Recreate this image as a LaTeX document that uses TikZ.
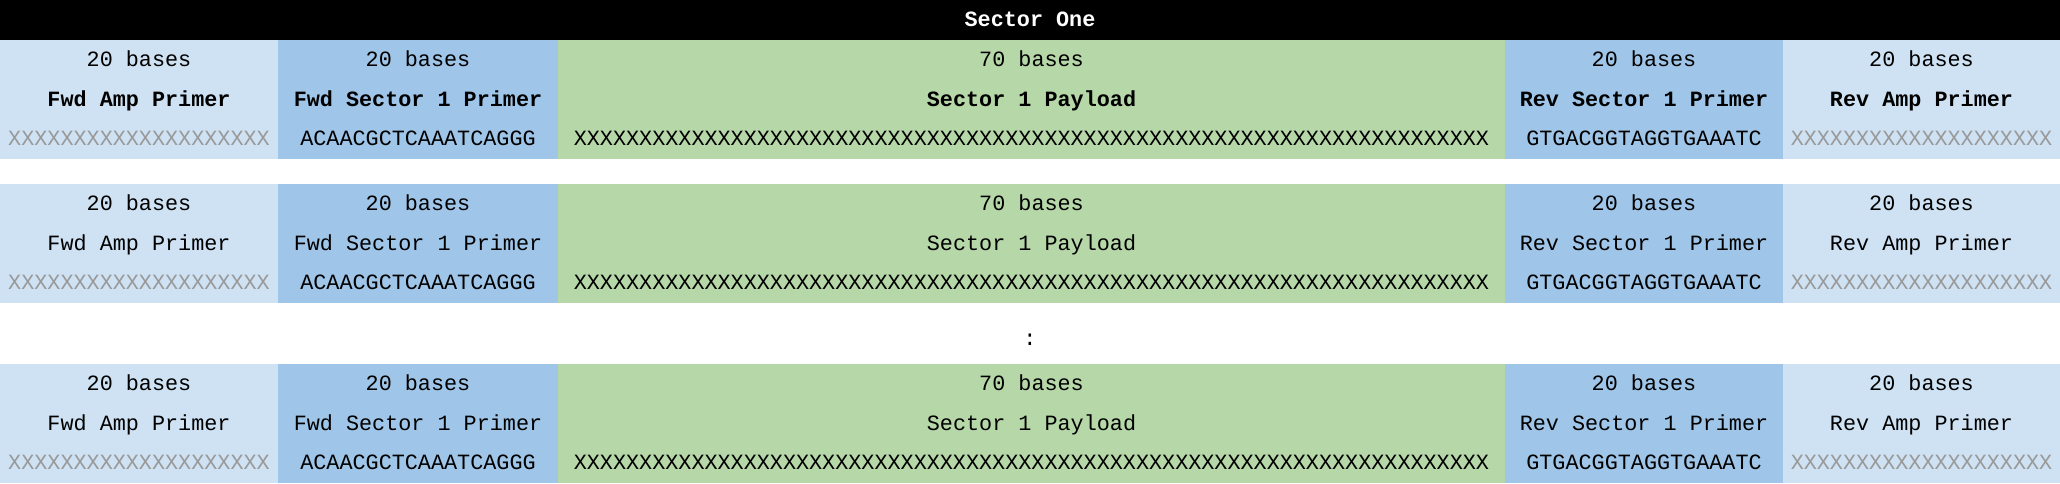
\documentclass[tikz,border=0pt]{standalone}
\usepackage{fontspec}
\setmainfont{Liberation Mono}
\usepackage{xcolor}
\usepackage{tikz}

\definecolor{ampblue}{HTML}{CFE2F3}
\definecolor{secblue}{HTML}{9FC5E8}
\definecolor{loadgreen}{HTML}{B6D7A8}
\definecolor{nullgray}{HTML}{999999}

\newcommand{\seqfont}{\fontsize{12.4}{14}\selectfont}

\tikzset{
  cell/.style={inner sep=0pt, text height=9pt, text depth=2pt, font=\seqfont},
  nullseq/.style={cell, text=nullgray}
}

% one strand of the sector: #1 name prefix, #2 top edge, #3 series of the part names
\newcommand{\seqrow}[3]{%
  \fill[ampblue] (0,#2) rectangle (5.56,#2-2.38);
  \fill[secblue] (5.56,#2) rectangle (11.16,#2-2.38);
  \fill[loadgreen] (11.16,#2) rectangle (30.1,#2-2.38);
  \fill[secblue] (30.1,#2) rectangle (35.66,#2-2.38);
  \fill[ampblue] (35.66,#2) rectangle (41.2,#2-2.38);
  \node[cell] (#1-fa-len) at (2.78,#2-0.41) {20 bases};
  \node[cell,font=\seqfont#3] (#1-fa-name) at (2.78,#2-1.2) {Fwd Amp Primer};
  \node[nullseq] (#1-fa-seq) at (2.78,#2-1.99) {XXXXXXXXXXXXXXXXXXXX};
  \node[cell] (#1-fs-len) at (8.36,#2-0.41) {20 bases};
  \node[cell,font=\seqfont#3] (#1-fs-name) at (8.36,#2-1.2) {Fwd Sector 1 Primer};
  \node[cell] (#1-fs-seq) at (8.36,#2-1.99) {ACAACGCTCAAATCAGGG};
  \node[cell] (#1-pl-len) at (20.63,#2-0.41) {70 bases};
  \node[cell,font=\seqfont#3] (#1-pl-name) at (20.63,#2-1.2) {Sector 1 Payload};
  \node[cell] (#1-pl-seq) at (20.63,#2-1.99) {XXXXXXXXXXXXXXXXXXXXXXXXXXXXXXXXXXXXXXXXXXXXXXXXXXXXXXXXXXXXXXXXXXXXXX};
  \node[cell] (#1-rs-len) at (32.88,#2-0.41) {20 bases};
  \node[cell,font=\seqfont#3] (#1-rs-name) at (32.88,#2-1.2) {Rev Sector 1 Primer};
  \node[cell] (#1-rs-seq) at (32.88,#2-1.99) {GTGACGGTAGGTGAAATC};
  \node[cell] (#1-ra-len) at (38.43,#2-0.41) {20 bases};
  \node[cell,font=\seqfont#3] (#1-ra-name) at (38.43,#2-1.2) {Rev Amp Primer};
  \node[nullseq] (#1-ra-seq) at (38.43,#2-1.99) {XXXXXXXXXXXXXXXXXXXX};
}

\begin{document}
\begin{tikzpicture}
\useasboundingbox (0,0) rectangle (41.2,9.66);
\fill[black] (0,9.66) rectangle (41.2,8.86);
\node[cell,font=\seqfont\bfseries,text=white] (title) at (20.6,9.26) {Sector One};
\seqrow{first}{8.86}{\bfseries}
\seqrow{second}{5.98}{\mdseries}
\node[cell] (more) at (20.6,2.87) {:};
\seqrow{last}{2.38}{\mdseries}
\end{tikzpicture}
\end{document}
